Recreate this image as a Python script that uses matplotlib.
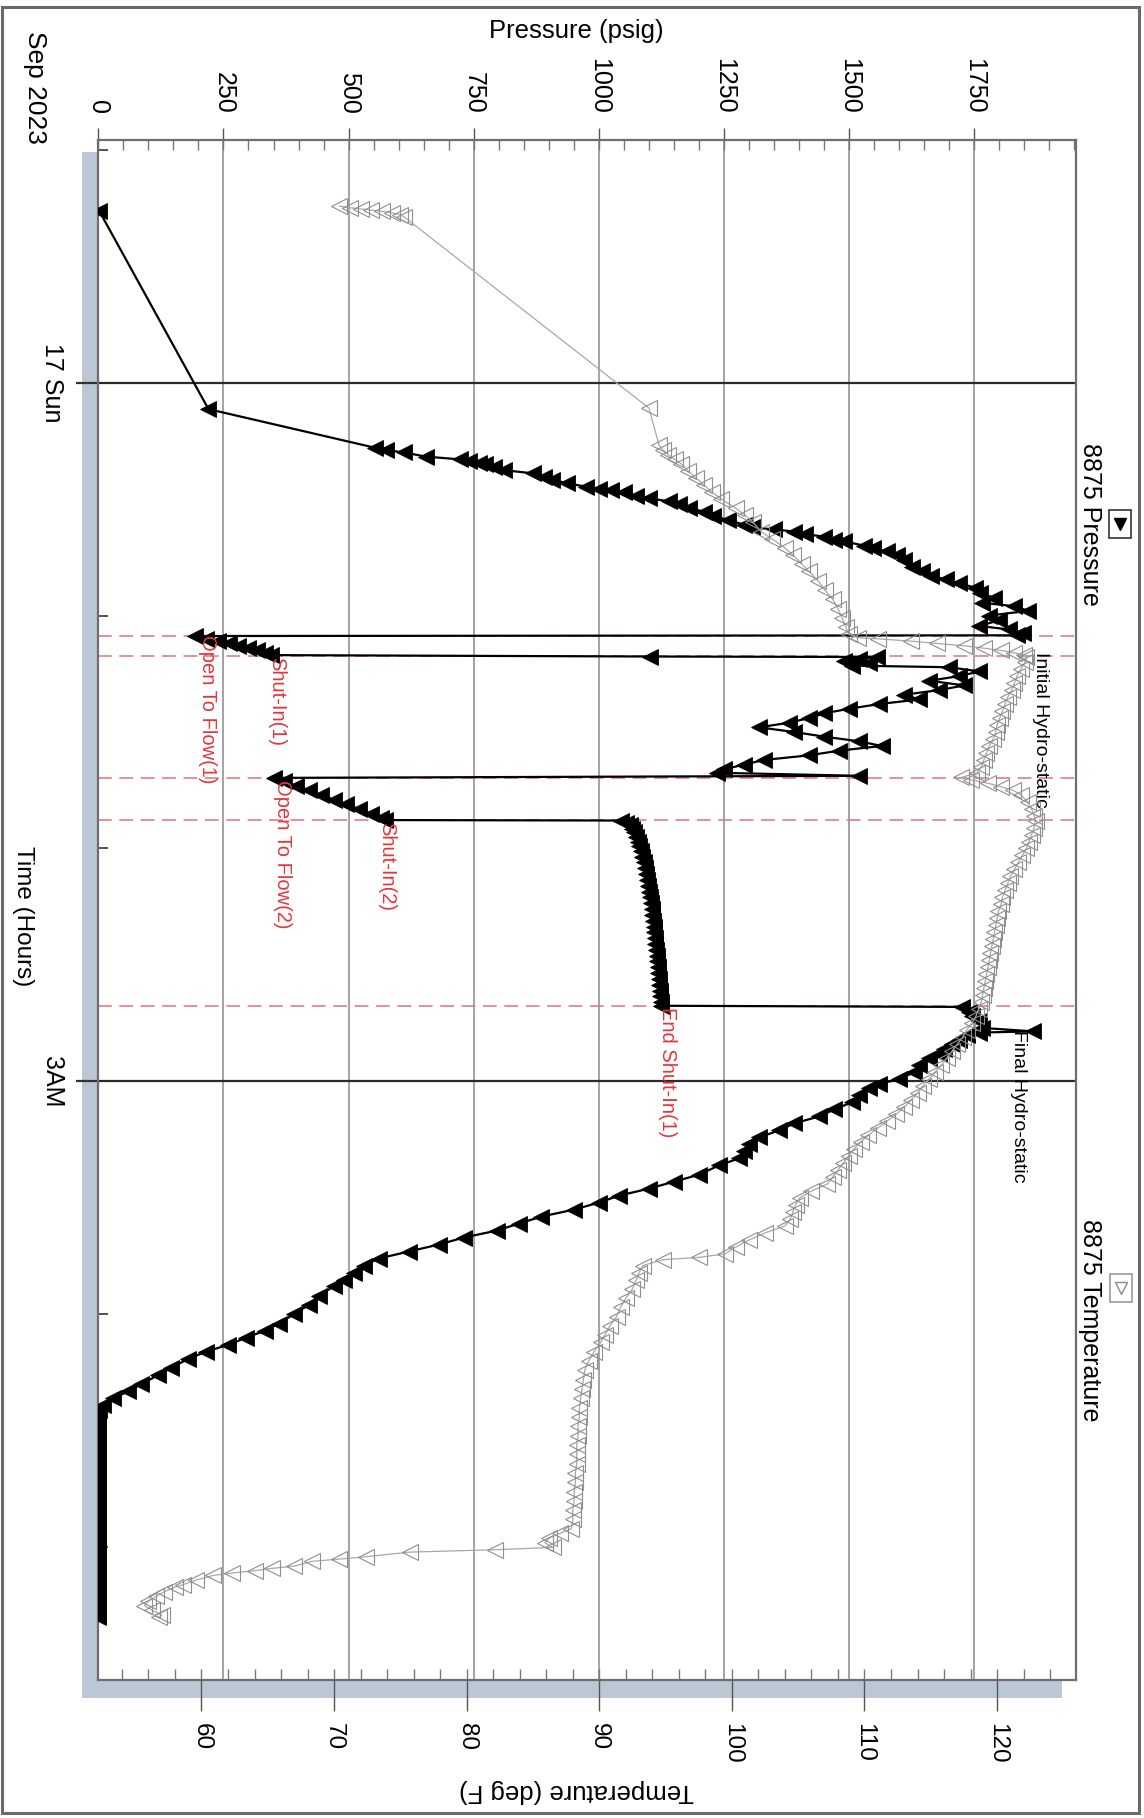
import matplotlib
matplotlib.use("Agg")
import matplotlib.pyplot as plt
from matplotlib.patches import Rectangle
from matplotlib.lines import Line2D
from matplotlib.ticker import MultipleLocator, FixedLocator

plt.rcParams['font.family'] = ['Liberation Sans', 'DejaVu Sans']

# ---------------- data (hours after 00:00 on 17 Sep 2023) ----------------
pressure_hours = [
    -0.736, 0.114,
    0.280, 0.290, 0.300, 0.318, 0.330, 0.338, 0.345, 0.350, 0.362, 0.376, 0.390, 0.405,
    0.418, 0.433, 0.447, 0.455, 0.462, 0.472, 0.485, 0.497, 0.510, 0.522, 0.537, 0.555,
    0.572, 0.590, 0.610, 0.622, 0.630, 0.640, 0.650, 0.662, 0.675, 0.682, 0.700, 0.712,
    0.725, 0.740, 0.760, 0.790, 0.810, 0.830, 0.845, 0.862, 0.880, 0.905, 0.925, 0.945,
    0.960, 0.980, 1.000, 1.020, 1.045, 1.060, 1.075, 1.085,
    1.088, 1.100, 1.110, 1.120, 1.130, 1.140, 1.150, 1.160, 1.170,
    1.176, 1.178, 1.185, 1.195, 1.205, 1.215, 1.222, 1.240, 1.260, 1.280, 1.300, 1.320,
    1.340, 1.360, 1.380, 1.400, 1.420, 1.440, 1.460, 1.480, 1.500, 1.520, 1.540, 1.560,
    1.580, 1.600, 1.620, 1.640, 1.660, 1.675, 1.688,
    1.697, 1.710, 1.730, 1.750, 1.770, 1.790, 1.810, 1.830, 1.850, 1.870, 1.878,
    1.880, 1.890, 1.900, 1.915, 1.930, 1.950, 1.970, 1.990, 2.010, 2.035, 2.060, 2.085,
    2.110, 2.135, 2.160, 2.185, 2.210, 2.235, 2.260, 2.285, 2.310, 2.335, 2.360, 2.385,
    2.410, 2.435, 2.460, 2.485, 2.510, 2.535, 2.560, 2.585, 2.610, 2.635, 2.660, 2.675,
    2.680, 2.700, 2.720, 2.740, 2.770, 2.785, 2.790, 2.800, 2.820, 2.840, 2.860, 2.880,
    2.900, 2.930, 2.960, 2.990, 3.010, 3.030, 3.060, 3.090, 3.120, 3.150, 3.180, 3.210,
    3.240, 3.270, 3.300, 3.330, 3.360, 3.400, 3.430, 3.460, 3.490, 3.520, 3.550, 3.580,
    3.610, 3.640, 3.670, 3.700, 3.730, 3.760, 3.790, 3.820, 3.850, 3.880, 3.920, 3.960,
    4.000, 4.040, 4.070, 4.100, 4.130, 4.160, 4.190, 4.230, 4.260, 4.300, 4.330, 4.360,
    4.390, 4.410,
    4.440, 4.470, 4.500, 4.530, 4.560, 4.590, 4.620, 4.650, 4.680, 4.710, 4.740, 4.770,
    4.800, 4.830, 4.860, 4.890, 4.920, 4.950, 4.980, 5.010, 5.040, 5.070, 5.100, 5.130,
    5.160, 5.190, 5.220, 5.250, 5.280, 5.300,
]
pressure_psig = [
    2, 220,
    553, 575, 610, 655, 723, 740, 760, 772, 790, 810, 869, 890,
    907, 937, 975, 1000, 1024, 1050, 1075, 1101, 1140, 1160, 1179, 1210,
    1228, 1257, 1290, 1305, 1350, 1390, 1412, 1450, 1470, 1490, 1530, 1548,
    1575, 1596, 1610, 1625, 1645, 1664, 1693, 1720, 1751, 1761, 1790, 1765,
    1830, 1858, 1780, 1800, 1760, 1820, 1848, 1835,
    193, 215, 240, 262, 280, 300, 318, 332, 345,
    1102, 1555, 1520, 1490, 1540, 1505, 1700, 1760, 1720, 1660, 1730, 1680,
    1610, 1640, 1560, 1500, 1450, 1420, 1380, 1320, 1390, 1450, 1520, 1565,
    1480, 1420, 1330, 1290, 1250, 1235, 1520,
    350, 370, 395, 420, 445, 470, 495, 520, 545, 565, 572,
    1045, 1055, 1062, 1067, 1071, 1075, 1078, 1081, 1084, 1087, 1090, 1092,
    1094, 1096, 1098, 1100, 1102, 1104, 1106, 1107, 1109, 1110, 1111, 1112,
    1113, 1115, 1116, 1117, 1118, 1119, 1120, 1121, 1122, 1123, 1124, 1125,
    1725, 1740, 1745, 1760, 1765, 1868, 1760, 1735, 1720, 1705, 1690, 1680,
    1660, 1640, 1630, 1600, 1560, 1540, 1520, 1505, 1470, 1440, 1390, 1360,
    1320, 1300, 1290, 1280, 1240, 1200, 1150, 1100, 1040, 1000, 950, 885,
    840, 796, 730, 680, 620, 560, 530, 510, 490, 470, 440, 420,
    390, 360, 332, 295, 260, 215, 180, 145, 120, 85, 60, 30,
    10, 2,
    0, 0, 0, 0, 0, 0, 0, 0, 0, 0, 0, 0,
    0, 0, 0, 0, 0, 0, 0, 0, 0, 0, 0, 0,
    0, 0, 0, 0, 0, 0,
]

temperature_hours = [
    -0.757, -0.750, -0.745, -0.740, -0.735, -0.728, -0.720, -0.710,
    0.110,
    0.268, 0.290, 0.310, 0.330, 0.350, 0.380, 0.410, 0.440, 0.470, 0.500, 0.540, 0.570,
    0.600, 0.640, 0.670, 0.710, 0.740, 0.780, 0.810, 0.850, 0.890, 0.930, 0.970, 1.010,
    1.050, 1.080,
    1.095, 1.100, 1.110, 1.120, 1.130, 1.140, 1.150, 1.160, 1.170, 1.180,
    1.200, 1.230, 1.260, 1.290, 1.320, 1.350, 1.380, 1.410, 1.440, 1.470, 1.500, 1.530,
    1.560, 1.590, 1.620, 1.650, 1.675, 1.695,
    1.705, 1.720, 1.735, 1.750, 1.770, 1.800, 1.830, 1.860, 1.880,
    1.910, 1.940, 1.970, 2.000, 2.030, 2.060, 2.090, 2.120, 2.150, 2.180, 2.210, 2.240,
    2.270, 2.300, 2.330, 2.360, 2.390, 2.420, 2.450, 2.480, 2.510, 2.540, 2.570, 2.600,
    2.630, 2.660, 2.690, 2.720, 2.750, 2.780, 2.810, 2.840, 2.870, 2.900, 2.930, 2.960,
    2.990, 3.020, 3.050, 3.080, 3.110, 3.140, 3.170, 3.200, 3.230, 3.260, 3.290, 3.320,
    3.350, 3.380, 3.410, 3.440, 3.470, 3.500, 3.530, 3.560, 3.590, 3.620, 3.650, 3.680,
    3.710, 3.740, 3.755, 3.765,
    3.790, 3.820, 3.850, 3.890, 3.930, 3.970, 4.010, 4.050, 4.090, 4.120, 4.160, 4.200,
    4.240, 4.280, 4.320, 4.360, 4.400, 4.440, 4.480, 4.520, 4.560, 4.600, 4.640, 4.680,
    4.720, 4.760, 4.800, 4.840, 4.880, 4.920,
    4.940, 4.960, 4.980, 5.000,
    5.010, 5.020, 5.040, 5.050, 5.060, 5.080, 5.090, 5.100, 5.110, 5.120, 5.140, 5.160,
    5.170, 5.190, 5.210, 5.230, 5.250, 5.270, 5.290, 5.300,
]
temperature_degF = [
    70.4, 71.2, 72.0, 72.8, 73.6, 74.4, 75.0, 75.3,
    93.75,
    94.5, 94.8, 95.2, 95.7, 96.2, 96.7, 97.3, 97.9, 98.5, 99.2, 100.3, 101.0,
    101.6, 102.2, 103.0, 104.0, 104.6, 105.3, 105.8, 106.5, 107.0, 107.6, 108.0, 108.3,
    108.6, 108.8,
    109.5, 111.0, 113.5, 115.5, 117.5, 119.0, 120.3, 121.3, 122.0, 122.2,
    122.1, 121.8, 121.5, 121.3, 121.1, 120.8, 120.6, 120.4, 120.2, 120.0, 119.9, 119.7,
    119.4, 119.2, 119.0, 118.8, 118.5, 117.3,
    118.0, 119.3, 120.3, 121.2, 121.8, 122.3, 122.6, 122.8, 122.9,
    122.8, 122.6, 122.4, 122.2, 121.9, 121.6, 121.3, 121.0, 120.8, 120.6, 120.4, 120.3,
    120.1, 120.0, 119.9, 119.8, 119.7, 119.6, 119.5, 119.4, 119.3, 119.2, 119.1, 119.0,
    118.9, 118.8, 118.6, 118.4, 118.1, 117.7, 117.4, 117.0, 116.6, 116.2, 115.8, 115.3,
    114.9, 114.4, 114.0, 113.5, 113.0, 112.4, 111.7, 111.0, 110.3, 109.7, 109.2, 108.8,
    108.4, 108.0, 107.6, 107.2, 106.0, 105.1, 104.8, 104.6, 104.4, 104.0, 102.5, 101.3,
    100.3, 99.5, 97.5, 94.8,
    93.3, 93.0, 92.8, 92.5, 92.0, 91.6, 91.3, 90.8, 90.4, 90.1, 89.6, 89.2,
    88.9, 88.8, 88.7, 88.6, 88.5, 88.5, 88.4, 88.4, 88.3, 88.3, 88.3, 88.2,
    88.2, 88.1, 88.1, 88.0, 88.0, 87.9,
    87.0, 86.2, 85.9, 86.5,
    82.1, 75.7, 72.4, 70.4, 68.3, 67.0, 65.3, 64.0, 62.3, 60.9, 59.6, 58.6,
    58.0, 57.2, 56.6, 56.0, 55.7, 56.3, 57.0, 56.8,
]

event_hours = [1.087, 1.174, 1.698, 1.879, 2.677]
event_labels = ["Open To Flow(1)", "Shut-In(1)", "Open To Flow(2)", "Shut-In(2)", "End Shut-In(1)"]
event_label_psig = [219, 357, 367, 575, 1138]
event_label_hours = [1.084, 1.178, 1.706, 1.886, 2.680]

hydro_labels = ["Initial Hydro-static", "Final Hydro-static"]
hydro_psig = [1882, 1838]
hydro_hours = [1.157, 2.780]

time_tick_hours = [0, 3]
time_tick_labels = ["17 Sun", "3AM"]
time_minor_hours = [-1, 1, 2, 4, 5]
pressure_ticks = [0, 250, 500, 750, 1000, 1250, 1500, 1750]
temperature_ticks = [60, 70, 80, 90, 100, 110, 120]

# ---------------- figure ----------------
W, H = 1144, 1818
fig = plt.figure(figsize=(W / 100, H / 100), dpi=100)


def fx(px):
    return px / W


def fy(py):
    return 1 - py / H


# outer frame
fig.patches.append(Rectangle((fx(2), fy(1813)), fx(1137), (1813 - 7) / H,
                             transform=fig.transFigure, fill=False,
                             edgecolor='#6a6a6a', linewidth=2.2, zorder=-2))
# plot-area shadow
fig.patches.append(Rectangle((fx(82), fy(1698)), fx(1062 - 82), (1698 - 152) / H,
                             transform=fig.transFigure, facecolor='#bcc7d5',
                             edgecolor='none', zorder=-1))

L, R, T, B = 98.3, 1076, 140, 1680
ax = fig.add_axes([fx(L), fy(B), fx(R - L), (B - T) / H])
ax.set_facecolor('white')
ax.set_xlim(0, 1953)
ax.set_ylim(5.569, -1.041)

# temperature axis (twin) is created first so the pressure ticks can stay on top
ax2 = ax.twiny()
ax2.set_xlim(52.22, 125.95)

# pressure axis on top
ax.xaxis.set_ticks_position('top')
ax.xaxis.set_label_position('top')
ax.set_xticks(pressure_ticks)
ax.set_xticklabels([str(v) for v in pressure_ticks], rotation=-90, fontsize=18)
ax.xaxis.set_minor_locator(MultipleLocator(50))
ax.xaxis.remove_overlapping_locs = False
ax.tick_params(axis='x', which='major', direction='out', length=9, width=1,
               color='#555555', pad=10, top=True, bottom=False,
               labeltop=True, labelbottom=False)
ax.tick_params(axis='x', which='minor', direction='in', length=7, width=1,
               color='#777777', top=True, bottom=False)

# time axis on the left
ax.set_yticks(time_tick_hours)
ax.set_yticklabels(time_tick_labels, rotation=-90, fontsize=18, va='center')
ax.yaxis.set_minor_locator(FixedLocator(time_minor_hours))
ax.tick_params(axis='y', which='major', direction='out', length=16, width=1.6,
               color='#333333', pad=9)
ax.tick_params(axis='y', which='minor', direction='in', length=7, width=1.2,
               color='#333333')

for sp in ax.spines.values():
    sp.set_color('#6e6e6e')
    sp.set_linewidth(1.6)

# grid
for v in pressure_ticks[1:]:
    ax.axvline(v, color='#8a8a8a', lw=1.1, zorder=1)
for v in time_tick_hours:
    ax.axhline(v, color='#2a2a2a', lw=1.6, zorder=1)

# event markers
for t in event_hours:
    ax.axhline(t, color='#e0707a', lw=1.1, ls=(0, (9, 5)), zorder=1.5)

# pressure series
ax.plot(pressure_psig, pressure_hours, color='black', lw=1.6, marker='<',
        markersize=12, markerfacecolor='black', markeredgecolor='black',
        markeredgewidth=0.6, zorder=3)

for name, p, t in zip(event_labels, event_label_psig, event_label_hours):
    ax.text(p, t, name, rotation=-90, color='#e8333a', fontsize=14.5,
            ha='center', va='top', zorder=5)
for name, p, t in zip(hydro_labels, hydro_psig, hydro_hours):
    ax.text(p, t, name, rotation=-90, color='black', fontsize=14,
            ha='center', va='top', zorder=5)

# temperature ticks at the bottom
ax2.xaxis.set_ticks_position('bottom')
ax2.xaxis.set_label_position('bottom')
ax2.set_xticks(temperature_ticks)
ax2.set_xticklabels([str(v) for v in temperature_ticks], rotation=-90, fontsize=17.5)
ax2.xaxis.set_minor_locator(MultipleLocator(2))
ax2.xaxis.remove_overlapping_locs = False
ax2.tick_params(axis='x', which='major', direction='out', length=22, width=1,
                color='#555555', pad=9, bottom=True, top=False,
                labelbottom=True, labeltop=False)
ax2.tick_params(axis='x', which='minor', direction='in', length=8, width=1,
                color='#777777', bottom=True, top=False)
for sp in ax2.spines.values():
    sp.set_visible(False)

ax2.plot(temperature_degF, temperature_hours, color='#a8a8a8', lw=0.9, marker='<',
         markersize=12, markerfacecolor='none', markeredgecolor='#8f8f8f',
         markeredgewidth=0.8, zorder=4)

# titles
fig.text(fx(576), fy(31), "Pressure (psig)", fontsize=18.5, ha='center', va='center')
fig.text(fx(576), fy(1791), "Temperature (deg F)", fontsize=18.5, ha='center',
         va='center', rotation=180)
fig.text(fx(35), fy(87), "Sep 2023", fontsize=19, ha='center', va='center', rotation=-90)
fig.text(fx(23), fy(916), "Time (Hours)", fontsize=17.5, ha='center', va='center', rotation=-90)

# series keys on the right
fig.text(fx(1090), fy(524), "8875 Pressure", fontsize=18, ha='center', va='center', rotation=-90)
fig.text(fx(1090), fy(1320), "8875 Temperature", fontsize=18, ha='center', va='center', rotation=-90)
fig.patches.append(Rectangle((fx(1109), fy(538)), fx(22), 28 / H, transform=fig.transFigure,
                             facecolor='white', edgecolor='#333333', lw=1.2, zorder=2))
fig.lines.append(Line2D([fx(1120)], [fy(524)], transform=fig.transFigure, marker='v',
                        markersize=9, color='black', linestyle='none', zorder=3))
fig.patches.append(Rectangle((fx(1110), fy(1302)), fx(22), 28 / H, transform=fig.transFigure,
                             facecolor='white', edgecolor='#999999', lw=1.2, zorder=2))
fig.lines.append(Line2D([fx(1121)], [fy(1288)], transform=fig.transFigure, marker='v',
                        markersize=9, markerfacecolor='none', markeredgecolor='#888888',
                        linestyle='none', zorder=3))

fig.savefig("out.png", dpi=100)
